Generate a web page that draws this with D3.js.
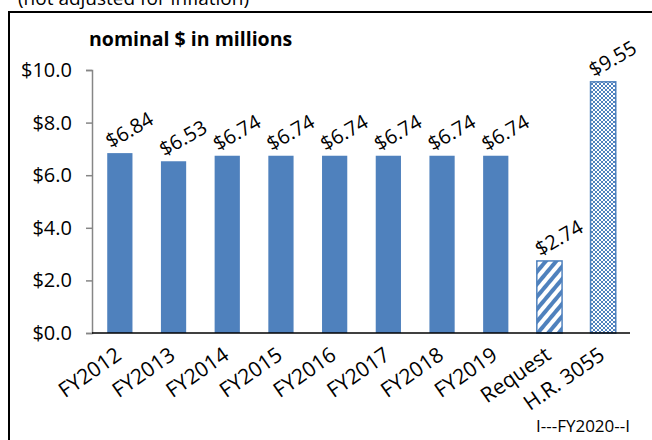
<!DOCTYPE html>
<html>
<head>
<meta charset="utf-8">
<script src="https://cdn.jsdelivr.net/npm/d3@7"></script>
<style>
  body { margin: 0; background: #fff; }
  svg text { font-family: "Open Sans", "Noto Sans", sans-serif; }
</style>
</head>
<body>
<div id="chart"></div>
<script>
// Data
const categories = ["FY2012", "FY2013", "FY2014", "FY2015", "FY2016", "FY2017", "FY2018", "FY2019", "Request", "H.R. 3055"];
const values = [6.84, 6.53, 6.74, 6.74, 6.74, 6.74, 6.74, 6.74, 2.74, 9.55];
const fills = ["solid", "solid", "solid", "solid", "solid", "solid", "solid", "solid", "stripes", "dots"];
const yTicks = [0, 2, 4, 6, 8, 10];

const width = 652, height = 440;
const blue = "#4f81bd";

const svg = d3.select("#chart")
  .append("svg")
    .attr("width", width)
    .attr("height", height);

// Patterns
const defs = svg.append("defs");
const stripes = defs.append("pattern")
  .attr("id", "stripes")
  .attr("patternUnits", "userSpaceOnUse")
  .attr("width", 8)
  .attr("height", 8)
  .attr("patternTransform", "rotate(40)");
stripes.append("rect").attr("width", 8).attr("height", 8).attr("fill", "#fff");
stripes.append("rect").attr("width", 4).attr("height", 8).attr("fill", blue);

const dots = defs.append("pattern")
  .attr("id", "dots")
  .attr("patternUnits", "userSpaceOnUse")
  .attr("width", 4)
  .attr("height", 4);
dots.append("rect").attr("width", 4).attr("height", 4).attr("fill", "#fff");
dots.append("path")
  .attr("d", "M0,0L4,4M4,0L0,4")
  .attr("stroke", blue)
  .attr("stroke-width", 1);

// Frame and cropped caption (cut off at the top, as in the source)
svg.append("text")
  .attr("x", 18)
  .attr("y", 5)
  .style("font-size", "19px")
  .style("fill", "#000")
  .text("(not adjusted for inflation)");

svg.append("path")
  .attr("d", `M9,${height}V12H${width}`)
  .attr("fill", "none")
  .attr("stroke", "#000")
  .attr("stroke-width", 2);

// Scales
const x = d3.scaleBand()
  .domain(categories)
  .range([93, 630])
  .paddingInner(0.53)
  .paddingOuter(0.265);

const y = d3.scaleLinear()
  .domain([0, 10])
  .range([333, 70]);

// Y axis
const yAxis = svg.append("g")
  .attr("transform", "translate(92,0)")
  .call(d3.axisLeft(y).tickValues(yTicks).tickSize(6).tickPadding(14).tickFormat(d => "$" + d.toFixed(1)));
yAxis.select(".domain").attr("stroke", "#868686").attr("stroke-width", 1.5);
yAxis.selectAll(".tick line").attr("stroke", "#868686").attr("stroke-width", 1.5);
yAxis.selectAll(".tick text")
  .attr("fill", "#000")
  .style("font-size", "20px")
  .style("font-family", "'Open Sans', sans-serif");

// Bars
svg.selectAll("rect.bar")
  .data(categories)
  .join("rect")
  .attr("class", "bar")
  .attr("x", d => x(d))
  .attr("width", x.bandwidth())
  .attr("y", (d, i) => y(values[i]))
  .attr("height", (d, i) => y(0) - y(values[i]))
  .attr("fill", (d, i) => fills[i] === "solid" ? blue : `url(#${fills[i]})`)
  .attr("stroke", (d, i) => fills[i] === "solid" ? "none" : blue)
  .attr("stroke-width", 1.5);

// X baseline
svg.append("line")
  .attr("x1", 92)
  .attr("x2", 630)
  .attr("y1", y(0))
  .attr("y2", y(0))
  .attr("stroke", "#000")
  .attr("stroke-width", 1.5);

// Value labels
svg.selectAll("text.value")
  .data(categories)
  .join("text")
  .attr("class", "value")
  .attr("text-anchor", "middle")
  .attr("transform", (d, i) => `translate(${x(d) + x.bandwidth() / 2 + 13},${y(values[i]) - 17}) rotate(-30)`)
  .style("font-size", "20px")
  .style("fill", "#000")
  .text((d, i) => "$" + values[i].toFixed(2));

// Category labels
svg.selectAll("text.cat")
  .data(categories)
  .join("text")
  .attr("class", "cat")
  .attr("text-anchor", "end")
  .attr("transform", d => `translate(${x(d) + x.bandwidth() / 2 + 3},358) rotate(-35)`)
  .style("font-size", "21px")
  .style("fill", "#000")
  .text(d => d);

// Units note and FY2020 bracket
svg.append("text")
  .attr("x", 89)
  .attr("y", 46)
  .style("font-size", "19.5px")
  .style("font-weight", "bold")
  .style("fill", "#000")
  .text("nominal $ in millions");

svg.append("text")
  .attr("x", 630)
  .attr("y", 432)
  .attr("text-anchor", "end")
  .style("font-size", "17px")
  .style("fill", "#000")
  .text("I---FY2020--I");
</script>
</body>
</html>
